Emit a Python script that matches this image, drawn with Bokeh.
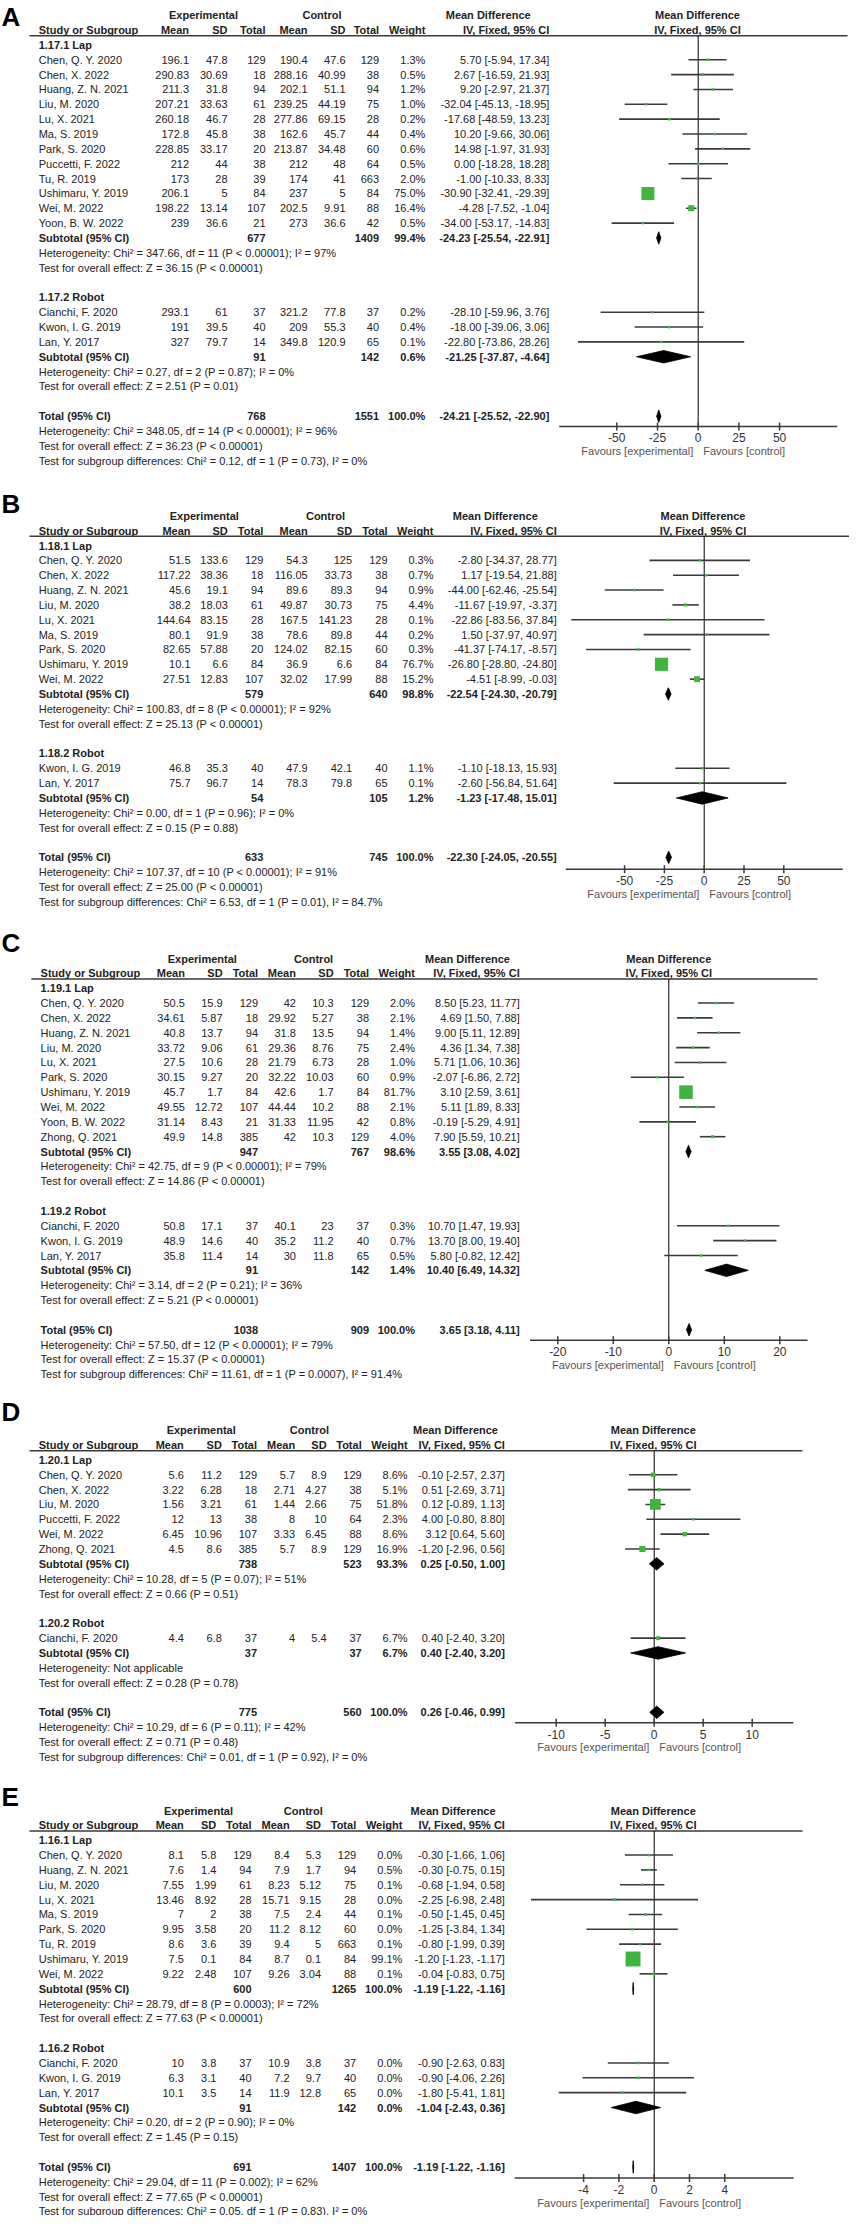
import numpy as np
from bokeh.plotting import figure
from bokeh.models import Range1d, ColumnDataSource
from bokeh.layouts import column
from bokeh.core.properties import value
from bokeh.embed import file_html
from bokeh.resources import INLINE

FONT = "Liberation Sans"

# ===================== DATA =====================
# ---------- Panel A ----------
A_groups = ["1.17.1 Lap", "1.17.2 Robot"]
A_study = ["Chen, Q. Y. 2020", "Chen, X. 2022", "Huang, Z. N. 2021", "Liu, M. 2020", "Lu, X. 2021",
           "Ma, S. 2019", "Park, S. 2020", "Puccetti, F. 2022", "Tu, R. 2019", "Ushimaru, Y. 2019",
           "Wei, M. 2022", "Yoon, B. W. 2022", "Cianchi, F. 2020", "Kwon, I. G. 2019", "Lan, Y. 2017"]
A_group = [0] * 12 + [1] * 3
A_exp_mean = [196.1, 290.83, 211.3, 207.21, 260.18, 172.8, 228.85, 212, 173, 206.1, 198.22, 239, 293.1, 191, 327]
A_exp_sd = [47.8, 30.69, 31.8, 33.63, 46.7, 45.8, 33.17, 44, 28, 5, 13.14, 36.6, 61, 39.5, 79.7]
A_exp_n = [129, 18, 94, 61, 28, 38, 20, 38, 39, 84, 107, 21, 37, 40, 14]
A_ctl_mean = [190.4, 288.16, 202.1, 239.25, 277.86, 162.6, 213.87, 212, 174, 237, 202.5, 273, 321.2, 209, 349.8]
A_ctl_sd = [47.6, 40.99, 51.1, 44.19, 69.15, 45.7, 34.48, 48, 41, 5, 9.91, 36.6, 77.8, 55.3, 120.9]
A_ctl_n = [129, 38, 94, 75, 28, 44, 60, 64, 663, 84, 88, 42, 37, 40, 65]
A_weight = [1.3, 0.5, 1.2, 1.0, 0.2, 0.4, 0.6, 0.5, 2.0, 75.0, 16.4, 0.5, 0.2, 0.4, 0.1]
A_md = [5.70, 2.67, 9.20, -32.04, -17.68, 10.20, 14.98, 0.00, -1.00, -30.90, -4.28, -34.00, -28.10, -18.00, -22.80]
A_lo = [-5.94, -16.59, -2.97, -45.13, -48.59, -9.66, -1.97, -18.28, -10.33, -32.41, -7.52, -53.17, -59.96, -39.06, -73.86]
A_hi = [17.34, 21.93, 21.37, -18.95, 13.23, 30.06, 31.93, 18.28, 8.33, -29.39, -1.04, -14.83, 3.76, 3.06, 28.26]
# subtotal Lap, subtotal Robot, Total
A_sum_exp_n = [677, 91, 768]
A_sum_ctl_n = [1409, 142, 1551]
A_sum_weight = [99.4, 0.6, 100.0]
A_sum_md = [-24.23, -21.25, -24.21]
A_sum_lo = [-25.54, -37.87, -25.52]
A_sum_hi = [-22.91, -4.64, -22.90]
A_het = ["Heterogeneity: Chi² = 347.66, df = 11 (P < 0.00001); I² = 97%",
         "Heterogeneity: Chi² = 0.27, df = 2 (P = 0.87); I² = 0%",
         "Heterogeneity: Chi² = 348.05, df = 14 (P < 0.00001); I² = 96%"]
A_effect = ["Test for overall effect: Z = 36.15 (P < 0.00001)",
            "Test for overall effect: Z = 2.51 (P = 0.01)",
            "Test for overall effect: Z = 36.23 (P < 0.00001)"]
A_subgroup = "Test for subgroup differences: Chi² = 0.12, df = 1 (P = 0.73), I² = 0%"
A_ticks = [-50, -25, 0, 25, 50]

# ---------- Panel B ----------
B_groups = ["1.18.1 Lap", "1.18.2 Robot"]
B_study = ["Chen, Q. Y. 2020", "Chen, X. 2022", "Huang, Z. N. 2021", "Liu, M. 2020", "Lu, X. 2021",
           "Ma, S. 2019", "Park, S. 2020", "Ushimaru, Y. 2019", "Wei, M. 2022",
           "Kwon, I. G. 2019", "Lan, Y. 2017"]
B_group = [0] * 9 + [1] * 2
B_exp_mean = [51.5, 117.22, 45.6, 38.2, 144.64, 80.1, 82.65, 10.1, 27.51, 46.8, 75.7]
B_exp_sd = [133.6, 38.36, 19.1, 18.03, 83.15, 91.9, 57.88, 6.6, 12.83, 35.3, 96.7]
B_exp_n = [129, 18, 94, 61, 28, 38, 20, 84, 107, 40, 14]
B_ctl_mean = [54.3, 116.05, 89.6, 49.87, 167.5, 78.6, 124.02, 36.9, 32.02, 47.9, 78.3]
B_ctl_sd = [125, 33.73, 89.3, 30.73, 141.23, 89.8, 82.15, 6.6, 17.99, 42.1, 79.8]
B_ctl_n = [129, 38, 94, 75, 28, 44, 60, 84, 88, 40, 65]
B_weight = [0.3, 0.7, 0.9, 4.4, 0.1, 0.2, 0.3, 76.7, 15.2, 1.1, 0.1]
B_md = [-2.80, 1.17, -44.00, -11.67, -22.86, 1.50, -41.37, -26.80, -4.51, -1.10, -2.60]
B_lo = [-34.37, -19.54, -62.46, -19.97, -83.56, -37.97, -74.17, -28.80, -8.99, -18.13, -56.84]
B_hi = [28.77, 21.88, -25.54, -3.37, 37.84, 40.97, -8.57, -24.80, -0.03, 15.93, 51.64]
B_sum_exp_n = [579, 54, 633]
B_sum_ctl_n = [640, 105, 745]
B_sum_weight = [98.8, 1.2, 100.0]
B_sum_md = [-22.54, -1.23, -22.30]
B_sum_lo = [-24.30, -17.48, -24.05]
B_sum_hi = [-20.79, 15.01, -20.55]
B_het = ["Heterogeneity: Chi² = 100.83, df = 8 (P < 0.00001); I² = 92%",
         "Heterogeneity: Chi² = 0.00, df = 1 (P = 0.96); I² = 0%",
         "Heterogeneity: Chi² = 107.37, df = 10 (P < 0.00001); I² = 91%"]
B_effect = ["Test for overall effect: Z = 25.13 (P < 0.00001)",
            "Test for overall effect: Z = 0.15 (P = 0.88)",
            "Test for overall effect: Z = 25.00 (P < 0.00001)"]
B_subgroup = "Test for subgroup differences: Chi² = 6.53, df = 1 (P = 0.01), I² = 84.7%"
B_ticks = [-50, -25, 0, 25, 50]

# ---------- Panel C ----------
C_groups = ["1.19.1 Lap", "1.19.2 Robot"]
C_study = ["Chen, Q. Y. 2020", "Chen, X. 2022", "Huang, Z. N. 2021", "Liu, M. 2020", "Lu, X. 2021",
           "Park, S. 2020", "Ushimaru, Y. 2019", "Wei, M. 2022", "Yoon, B. W. 2022", "Zhong, Q. 2021",
           "Cianchi, F. 2020", "Kwon, I. G. 2019", "Lan, Y. 2017"]
C_group = [0] * 10 + [1] * 3
C_exp_mean = [50.5, 34.61, 40.8, 33.72, 27.5, 30.15, 45.7, 49.55, 31.14, 49.9, 50.8, 48.9, 35.8]
C_exp_sd = [15.9, 5.87, 13.7, 9.06, 10.6, 9.27, 1.7, 12.72, 8.43, 14.8, 17.1, 14.6, 11.4]
C_exp_n = [129, 18, 94, 61, 28, 20, 84, 107, 21, 385, 37, 40, 14]
C_ctl_mean = [42, 29.92, 31.8, 29.36, 21.79, 32.22, 42.6, 44.44, 31.33, 42, 40.1, 35.2, 30]
C_ctl_sd = [10.3, 5.27, 13.5, 8.76, 6.73, 10.03, 1.7, 10.2, 11.95, 10.3, 23, 11.2, 11.8]
C_ctl_n = [129, 38, 94, 75, 28, 60, 84, 88, 42, 129, 37, 40, 65]
C_weight = [2.0, 2.1, 1.4, 2.4, 1.0, 0.9, 81.7, 2.1, 0.8, 4.0, 0.3, 0.7, 0.5]
C_md = [8.50, 4.69, 9.00, 4.36, 5.71, -2.07, 3.10, 5.11, -0.19, 7.90, 10.70, 13.70, 5.80]
C_lo = [5.23, 1.50, 5.11, 1.34, 1.06, -6.86, 2.59, 1.89, -5.29, 5.59, 1.47, 8.00, -0.82]
C_hi = [11.77, 7.88, 12.89, 7.38, 10.36, 2.72, 3.61, 8.33, 4.91, 10.21, 19.93, 19.40, 12.42]
C_sum_exp_n = [947, 91, 1038]
C_sum_ctl_n = [767, 142, 909]
C_sum_weight = [98.6, 1.4, 100.0]
C_sum_md = [3.55, 10.40, 3.65]
C_sum_lo = [3.08, 6.49, 3.18]
C_sum_hi = [4.02, 14.32, 4.11]
C_het = ["Heterogeneity: Chi² = 42.75, df = 9 (P < 0.00001); I² = 79%",
         "Heterogeneity: Chi² = 3.14, df = 2 (P = 0.21); I² = 36%",
         "Heterogeneity: Chi² = 57.50, df = 12 (P < 0.00001); I² = 79%"]
C_effect = ["Test for overall effect: Z = 14.86 (P < 0.00001)",
            "Test for overall effect: Z = 5.21 (P < 0.00001)",
            "Test for overall effect: Z = 15.37 (P < 0.00001)"]
C_subgroup = "Test for subgroup differences: Chi² = 11.61, df = 1 (P = 0.0007), I² = 91.4%"
C_ticks = [-20, -10, 0, 10, 20]

# ---------- Panel D ----------
D_groups = ["1.20.1 Lap", "1.20.2 Robot"]
D_study = ["Chen, Q. Y. 2020", "Chen, X. 2022", "Liu, M. 2020", "Puccetti, F. 2022", "Wei, M. 2022",
           "Zhong, Q. 2021", "Cianchi, F. 2020"]
D_group = [0] * 6 + [1]
D_exp_mean = [5.6, 3.22, 1.56, 12, 6.45, 4.5, 4.4]
D_exp_sd = [11.2, 6.28, 3.21, 13, 10.96, 8.6, 6.8]
D_exp_n = [129, 18, 61, 38, 107, 385, 37]
D_ctl_mean = [5.7, 2.71, 1.44, 8, 3.33, 5.7, 4]
D_ctl_sd = [8.9, 4.27, 2.66, 10, 6.45, 8.9, 5.4]
D_ctl_n = [129, 38, 75, 64, 88, 129, 37]
D_weight = [8.6, 5.1, 51.8, 2.3, 8.6, 16.9, 6.7]
D_md = [-0.10, 0.51, 0.12, 4.00, 3.12, -1.20, 0.40]
D_lo = [-2.57, -2.69, -0.89, -0.80, 0.64, -2.96, -2.40]
D_hi = [2.37, 3.71, 1.13, 8.80, 5.60, 0.56, 3.20]
D_sum_exp_n = [738, 37, 775]
D_sum_ctl_n = [523, 37, 560]
D_sum_weight = [93.3, 6.7, 100.0]
D_sum_md = [0.25, 0.40, 0.26]
D_sum_lo = [-0.50, -2.40, -0.46]
D_sum_hi = [1.00, 3.20, 0.99]
D_het = ["Heterogeneity: Chi² = 10.28, df = 5 (P = 0.07); I² = 51%",
         "Heterogeneity: Not applicable",
         "Heterogeneity: Chi² = 10.29, df = 6 (P = 0.11); I² = 42%"]
D_effect = ["Test for overall effect: Z = 0.66 (P = 0.51)",
            "Test for overall effect: Z = 0.28 (P = 0.78)",
            "Test for overall effect: Z = 0.71 (P = 0.48)"]
D_subgroup = "Test for subgroup differences: Chi² = 0.01, df = 1 (P = 0.92), I² = 0%"
D_ticks = [-10, -5, 0, 5, 10]

# ---------- Panel E ----------
E_groups = ["1.16.1 Lap", "1.16.2 Robot"]
E_study = ["Chen, Q. Y. 2020", "Huang, Z. N. 2021", "Liu, M. 2020", "Lu, X. 2021", "Ma, S. 2019",
           "Park, S. 2020", "Tu, R. 2019", "Ushimaru, Y. 2019", "Wei, M. 2022",
           "Cianchi, F. 2020", "Kwon, I. G. 2019", "Lan, Y. 2017"]
E_group = [0] * 9 + [1] * 3
E_exp_mean = [8.1, 7.6, 7.55, 13.46, 7, 9.95, 8.6, 7.5, 9.22, 10, 6.3, 10.1]
E_exp_sd = [5.8, 1.4, 1.99, 8.92, 2, 3.58, 3.6, 0.1, 2.48, 3.8, 3.1, 3.5]
E_exp_n = [129, 94, 61, 28, 38, 20, 39, 84, 107, 37, 40, 14]
E_ctl_mean = [8.4, 7.9, 8.23, 15.71, 7.5, 11.2, 9.4, 8.7, 9.26, 10.9, 7.2, 11.9]
E_ctl_sd = [5.3, 1.7, 5.12, 9.15, 2.4, 8.12, 5, 0.1, 3.04, 3.8, 9.7, 12.8]
E_ctl_n = [129, 94, 75, 28, 44, 60, 663, 84, 88, 37, 40, 65]
E_weight = [0.0, 0.5, 0.1, 0.0, 0.1, 0.0, 0.1, 99.1, 0.1, 0.0, 0.0, 0.0]
E_md = [-0.30, -0.30, -0.68, -2.25, -0.50, -1.25, -0.80, -1.20, -0.04, -0.90, -0.90, -1.80]
E_lo = [-1.66, -0.75, -1.94, -6.98, -1.45, -3.84, -1.99, -1.23, -0.83, -2.63, -4.06, -5.41]
E_hi = [1.06, 0.15, 0.58, 2.48, 0.45, 1.34, 0.39, -1.17, 0.75, 0.83, 2.26, 1.81]
E_sum_exp_n = [600, 91, 691]
E_sum_ctl_n = [1265, 142, 1407]
E_sum_weight = [100.0, 0.0, 100.0]
E_sum_md = [-1.19, -1.04, -1.19]
E_sum_lo = [-1.22, -2.43, -1.22]
E_sum_hi = [-1.16, 0.36, -1.16]
E_het = ["Heterogeneity: Chi² = 28.79, df = 8 (P = 0.0003); I² = 72%",
         "Heterogeneity: Chi² = 0.20, df = 2 (P = 0.90); I² = 0%",
         "Heterogeneity: Chi² = 29.04, df = 11 (P = 0.002); I² = 62%"]
E_effect = ["Test for overall effect: Z = 77.63 (P < 0.00001)",
            "Test for overall effect: Z = 1.45 (P = 0.15)",
            "Test for overall effect: Z = 77.65 (P < 0.00001)"]
E_subgroup = "Test for subgroup differences: Chi² = 0.05, df = 1 (P = 0.83), I² = 0%"
E_ticks = [-4, -2, 0, 2, 4]

FAVOURS = ["Favours [experimental]", "Favours [control]"]
HEAD_TOP = ["Experimental", "Control", "Mean Difference"]
HEAD_COLS = ["Study or Subgroup", "Mean", "SD", "Total", "Mean", "SD", "Total", "Weight", "IV, Fixed, 95% CI"]

# ===================== LAYOUT (pixel positions, styles) =====================
ROW_H = 14.85
LAYOUT = {
    "A": dict(top=8, bottom=488, y0=22.7, label_y=24, zero=705.7, ppu=1.628, R=85.4, line_end=855, ul=37,
              axis_row=27.7, cols=[46.2, 196.5, 235, 273, 315, 353, 386.6, 432.9, 556.8],
              heads=[211, 329.5, 495.7], fh=705),
    "B": dict(top=488, bottom=926, y0=523.3, label_y=511, zero=711.7, ppu=1.592, R=87, line_end=859, ul=37,
              axis_row=23.8, cols=[46.2, 198, 235.3, 270.8, 315.2, 359.6, 395.1, 441, 564.2],
              heads=[211.8, 333, 502.8], fh=710.5),
    "C": dict(top=926, bottom=1398, y0=966, label_y=950, zero=676.3, ppu=5.55, R=25, line_end=825, ul=38.8,
              axis_row=25.7, cols=[48.1, 192.4, 230.1, 265.6, 303.4, 341.1, 376.6, 422.5, 527.2],
              heads=[209.8, 321.1, 475], fh=676.3),
    "D": dict(top=1398, bottom=1777, y0=1437.7, label_y=1419, zero=661.7, ppu=9.8, R=14.2, line_end=810, ul=37,
              axis_row=19.7, cols=[46.2, 191.3, 229.4, 264.5, 302.6, 334.1, 369.2, 415.1, 512.4],
              heads=[208.7, 316.9, 463], fh=660.8),
    "E": dict(top=1777, bottom=2223, y0=1818, label_y=1804, zero=661.7, ppu=17.65, R=7.9, line_end=810, ul=37,
              axis_row=24.75, cols=[46.2, 191.3, 223.8, 259, 297.1, 328.5, 363.7, 409.9, 512.4],
              heads=[206, 310.8, 460.6], fh=660.8),
}

TEXT_COLOR = "#222222"
LINE_COLOR = "#3a3a3a"
SQUARE_COLOR = "#3fb53f"


def fmt(v):
    return f"{v:g}"


def ci_str(md, lo, hi):
    return f"{md:.2f} [{lo:.2f}, {hi:.2f}]"


def panel(name):
    g = globals()
    d = {k: g[f"{name}_{k}"] for k in ["groups", "study", "group", "exp_mean", "exp_sd", "exp_n", "ctl_mean",
                                        "ctl_sd", "ctl_n", "weight", "md", "lo", "hi", "sum_exp_n", "sum_ctl_n",
                                        "sum_weight", "sum_md", "sum_lo", "sum_hi", "het", "effect",
                                        "subgroup", "ticks"]}
    L = LAYOUT[name]
    top, bottom, y0 = L["top"], L["bottom"], L["y0"]
    p = figure(width=849, height=bottom - top, x_range=Range1d(8, 857),
               y_range=Range1d((bottom - y0) / ROW_H, (top - y0) / ROW_H),
               x_axis_type=None, y_axis_type=None, output_backend="svg",
               toolbar_location=None, min_border=0)
    p.outline_line_color = None
    p.background_fill_color = "white"
    p.border_fill_color = "white"
    zero, ppu = L["zero"], L["ppu"]
    p.extra_x_ranges = {"md": Range1d((8 - zero) / ppu, (857 - zero) / ppu)}

    c = L["cols"]
    T = {k: dict(x=[], y=[], t=[]) for k in ["rl", "rr", "bl", "br", "bc"]}

    def add(kind, x, r, s):
        T[kind]["x"].append(x)
        T[kind]["y"].append(r)
        T[kind]["t"].append(s)

    for x, s in zip(L["heads"], HEAD_TOP):
        add("bc", x, 0, s)
    add("bc", L["fh"], 0, "Mean Difference")
    add("bc", L["fh"], 1, "IV, Fixed, 95% CI")
    add("bl", c[0], 1, HEAD_COLS[0])
    for x, s in zip(c[1:], HEAD_COLS[1:]):
        add("br", x, 1, s)

    st_r, st_md, st_lo, st_hi, st_w = [], [], [], [], []
    dm_r, dm_md, dm_lo, dm_hi = [], [], [], []
    r = 2
    for gi in range(2):
        add("bl", c[0], r, d["groups"][gi])
        r += 1
        for i, gg in enumerate(d["group"]):
            if gg != gi:
                continue
            add("rl", c[0], r, d["study"][i])
            vals = [fmt(d["exp_mean"][i]), fmt(d["exp_sd"][i]), str(d["exp_n"][i]),
                    fmt(d["ctl_mean"][i]), fmt(d["ctl_sd"][i]), str(d["ctl_n"][i]),
                    f"{d['weight'][i]:.1f}%", ci_str(d["md"][i], d["lo"][i], d["hi"][i])]
            for x, s in zip(c[1:], vals):
                add("rr", x, r, s)
            st_r.append(r); st_md.append(d["md"][i]); st_lo.append(d["lo"][i])
            st_hi.append(d["hi"][i]); st_w.append(d["weight"][i])
            r += 1
        add("bl", c[0], r, "Subtotal (95% CI)")
        add("br", c[3], r, str(d["sum_exp_n"][gi]))
        add("br", c[6], r, str(d["sum_ctl_n"][gi]))
        add("br", c[7], r, f"{d['sum_weight'][gi]:.1f}%")
        add("br", c[8], r, ci_str(d["sum_md"][gi], d["sum_lo"][gi], d["sum_hi"][gi]))
        dm_r.append(r); dm_md.append(d["sum_md"][gi]); dm_lo.append(d["sum_lo"][gi]); dm_hi.append(d["sum_hi"][gi])
        r += 1
        add("rl", c[0], r, d["het"][gi]); r += 1
        add("rl", c[0], r, d["effect"][gi]); r += 1
        r += 1
    add("bl", c[0], r, "Total (95% CI)")
    add("br", c[3], r, str(d["sum_exp_n"][2]))
    add("br", c[6], r, str(d["sum_ctl_n"][2]))
    add("br", c[7], r, f"{d['sum_weight'][2]:.1f}%")
    add("br", c[8], r, ci_str(d["sum_md"][2], d["sum_lo"][2], d["sum_hi"][2]))
    dm_r.append(r); dm_md.append(d["sum_md"][2]); dm_lo.append(d["sum_lo"][2]); dm_hi.append(d["sum_hi"][2])
    r += 1
    add("rl", c[0], r, d["het"][2]); r += 1
    add("rl", c[0], r, d["effect"][2]); r += 1
    add("rl", c[0], r, d["subgroup"])

    # header rule
    p.segment(x0=[L["ul"]], x1=[L["line_end"]], y0=[1.38], y1=[1.38], line_color=LINE_COLOR, line_width=1.5)

    ar = L["axis_row"]
    # zero line
    p.segment(x0=[0], x1=[0], y0=[1.38], y1=[ar], x_range_name="md", line_color="black", line_width=1)
    # CI lines and squares
    p.segment(x0=st_lo, x1=st_hi, y0=st_r, y1=st_r, x_range_name="md", line_color=LINE_COLOR, line_width=1.6)
    sizes = [max(2.5, 1.5 * np.sqrt(w)) for w in st_w]
    p.scatter(x=st_md, y=st_r, size=sizes, marker="square", x_range_name="md",
              fill_color=SQUARE_COLOR, line_color=None)
    # diamonds
    hh = 0.42
    xs = [[lo, m, hi, m] for lo, m, hi in zip(dm_lo, dm_md, dm_hi)]
    ys = [[rr, rr - hh, rr, rr + hh] for rr in dm_r]
    p.patches(xs=xs, ys=ys, x_range_name="md", fill_color="black", line_color="black", line_width=0.8)

    # forest axis
    R = L["R"]
    p.segment(x0=[-R], x1=[R], y0=[ar], y1=[ar], x_range_name="md", line_color=LINE_COLOR, line_width=1.5)
    ticks = d["ticks"]
    p.scatter(x=ticks, y=[ar] * len(ticks), marker="dash", angle=np.pi / 2, size=8, x_range_name="md",
              line_color=LINE_COLOR, line_width=1.5)
    p.text(x=ticks, y=[ar + 0.76] * len(ticks), text=[fmt(t) for t in ticks], x_range_name="md",
           text_align="center", text_baseline="middle", text_font=value(FONT), text_font_size="12px",
           text_color="#333333")
    p.text(x=[0], y=[ar + 1.65], text=[FAVOURS[0]], x_range_name="md", x_offset=-5,
           text_align="right", text_baseline="middle", text_font=value(FONT), text_font_size="11px",
           text_color="#555555")
    p.text(x=[0], y=[ar + 1.65], text=[FAVOURS[1]], x_range_name="md", x_offset=5,
           text_align="left", text_baseline="middle", text_font=value(FONT), text_font_size="11px",
           text_color="#555555")

    styles = {"rl": ("normal", "left"), "rr": ("normal", "right"), "bl": ("bold", "left"),
              "br": ("bold", "right"), "bc": ("bold", "center")}
    for k, (fs, al) in styles.items():
        src = ColumnDataSource(dict(x=T[k]["x"], y=T[k]["y"], t=T[k]["t"]))
        p.text(x="x", y="y", text="t", source=src, text_align=al, text_baseline="middle",
               text_font=value(FONT), text_font_size="11px", text_font_style=fs, text_color=TEXT_COLOR)

    # panel letter
    p.text(x=[9], y=[(L["label_y"] - y0) / ROW_H], text=[name], text_align="left", text_baseline="middle",
           text_font=value(FONT), text_font_size="26px", text_font_style="bold", text_color="black")
    return p


layout = column(*[panel(n) for n in ["A", "B", "C", "D", "E"]], spacing=0)
open("out.html", "w").write(file_html(layout, INLINE))
